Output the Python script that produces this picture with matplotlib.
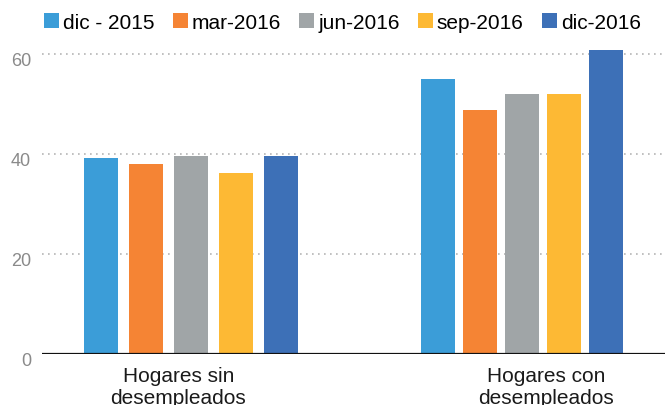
import matplotlib
matplotlib.use("Agg")
import matplotlib.pyplot as plt
import matplotlib.transforms as mtransforms
from matplotlib.patches import Patch
import numpy as np

plt.rcParams['font.family'] = ['Liberation Sans', 'DejaVu Sans']

categories = ["Hogares sin\ndesempleados", "Hogares con\ndesempleados"]
series_names = ["dic - 2015", "mar-2016", "jun-2016", "sep-2016", "dic-2016"]
dic2015 = [39.3, 55.1]
mar2016 = [38.1, 48.9]
jun2016 = [39.7, 52.0]
sep2016 = [36.3, 52.0]
dic2016 = [39.7, 60.9]
series_values = [dic2015, mar2016, jun2016, sep2016, dic2016]
colors = ["#3B9DD8", "#F58434", "#A0A5A7", "#FDB934", "#3D70B7"]
yticks = [0, 20, 40, 60]

fig = plt.figure(figsize=(6.65, 4.06), dpi=100)
ax = fig.add_axes([42/665, 51/406, 623/665, 310/406])

x = np.arange(len(categories))
steps = [0.1357, 0.1267]
width = 0.1026
n = len(series_values)
for i, (vals, col) in enumerate(zip(series_values, colors)):
    pos = [x[g] + (i - (n - 1) / 2) * steps[g] for g in range(len(categories))]
    ax.bar(pos, vals, width=width, color=col, zorder=3)

ax.set_xlim(-0.449, 1.430)
ax.set_ylim(0, 62)
ax.set_yticks(yticks)
ax.set_yticklabels([str(v) for v in yticks])
ax.set_xticks([x[0] - 0.038, x[1] + 0.071])
ax.set_xticklabels(categories)

for s in ax.spines.values():
    s.set_visible(False)
ax.tick_params(axis='x', length=0, pad=8.5, labelsize=15, labelcolor='#1a1a1a')
ax.tick_params(axis='y', length=0, pad=8, labelsize=13, labelcolor='#8a8a8a')
for lab in ax.get_xticklabels():
    lab.set_linespacing(1.2)

offset = mtransforms.ScaledTranslation(0, -5/100, fig.dpi_scale_trans)
for lab in ax.get_yticklabels():
    lab.set_transform(lab.get_transform() + offset)

for v in yticks[1:]:
    ax.axhline(v, color='#b5b5b5', lw=1.2, linestyle=(0, (1.0, 2.6)), zorder=1)
ax.axhline(0, color='#111111', lw=1.6, zorder=4)

handles = [Patch(facecolor=c, edgecolor='none') for c in colors]
fig.legend(handles, series_names, loc='center left',
           bbox_to_anchor=(44/665, 1 - 23.5/406), ncol=5, frameon=False,
           fontsize=15, handlelength=0.72, handleheight=0.72,
           handletextpad=0.2, columnspacing=0.86, borderpad=0, borderaxespad=0)

fig.savefig("out.png", dpi=100)
